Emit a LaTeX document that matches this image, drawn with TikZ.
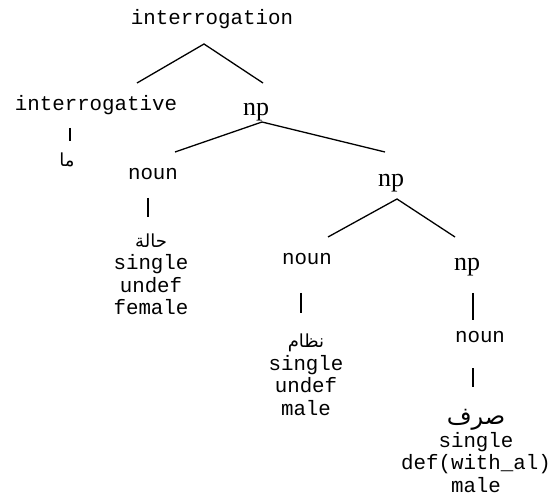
\documentclass[tikz,border=0pt]{standalone}
\usepackage{fontspec}
\setmainfont{Liberation Serif}
\setmonofont{Liberation Mono}
\newfontfamily\arabicfont[Script=Arabic]{DejaVu Sans}
\TeXXeTstate=1
\begin{document}
\begin{tikzpicture}[x=1pt,y=-1pt,
  lab/.style={font=\ttfamily\fontsize{20.8}{22.5}\selectfont, inner sep=0pt, anchor=base, align=center},
  cat/.style={font=\fontsize{26}{28}\selectfont, inner sep=0pt, anchor=base},
  edge/.style={line width=1.3pt, line cap=butt}]
\useasboundingbox (0,0) rectangle (552,497);
\newcommand{\ar}[2]{{\arabicfont\fontsize{#1}{24}\selectfont\beginR #2\endR}}
% nodes (multi-line nodes: base = baseline of the last line)
\node[lab] (root) at (212,25) {interrogation};
\node[lab] (interr) at (96,111) {interrogative};
\node[cat] (np1) at (256,116) {np};
\node[lab] (ma) at (67,167) {\ar{18}{ما}};
\node[lab] (noun1) at (153,180) {noun};
\node[lab] (leaf1) at (151,315) {\ar{18}{حالة}\\single\\undef\\female};
\node[cat] (np2) at (391,187) {np};
\node[lab] (noun2) at (307,265) {noun};
\node[lab] (leaf2) at (306,415) {\ar{18}{نظام}\\single\\undef\\male};
\node[cat] (np3) at (467,271) {np};
\node[lab] (noun3) at (480,342) {noun};
\node[lab] (leaf3) at (476,492) {\ar{24}{صرف}\\single\\def(with\_al)\\male};
% connector ends
\coordinate (rootA) at (204,44);
\coordinate (interrT) at (137,83);
\coordinate (np1T) at (263,83);
\coordinate (interrB) at (70,128);
\coordinate (maT) at (70,141);
\coordinate (np1A) at (262,122);
\coordinate (noun1T) at (175,152);
\coordinate (np2T) at (385,152);
\coordinate (noun1B) at (148,198);
\coordinate (leaf1T) at (148,217);
\coordinate (np2A) at (397,199);
\coordinate (noun2T) at (328,237);
\coordinate (np3T) at (455,237);
\coordinate (noun2B) at (301,293);
\coordinate (leaf2T) at (301,313);
\coordinate (np3B) at (473,293);
\coordinate (noun3T) at (473,320);
\coordinate (noun3B) at (473,368);
\coordinate (leaf3T) at (473,387);
% connectors
\draw[edge] (interrT) -- (rootA) -- (np1T);
\draw[edge] (interrB) -- (maT);
\draw[edge] (noun1T) -- (np1A) -- (np2T);
\draw[edge] (noun1B) -- (leaf1T);
\draw[edge] (noun2T) -- (np2A) -- (np3T);
\draw[edge] (noun2B) -- (leaf2T);
\draw[edge] (np3B) -- (noun3T);
\draw[edge] (noun3B) -- (leaf3T);
\end{tikzpicture}
\end{document}
